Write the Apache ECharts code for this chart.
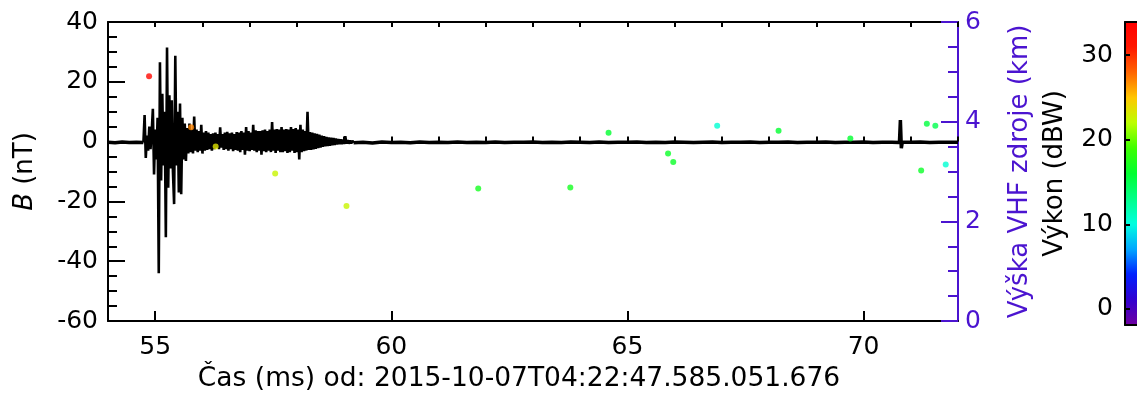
<!DOCTYPE html>
<html>
<head>
<meta charset="utf-8">
<script src="https://cdn.jsdelivr.net/npm/echarts@6/dist/echarts.min.js"></script>
<style>
  html, body { margin: 0; padding: 0; background: #ffffff; }
  #chart { width: 1137px; height: 398px; }
</style>
</head>
<body>
<div id="chart"></div>
<script>
// ---- axis ticks ----
const timeLabelTicks = [55, 60, 65, 70];          // ms
const powerTicks = [0, 10, 20, 30];               // dBW

// ---- magnetic field B (nT) vs time (ms) ----
// quiet record before the burst
const quietPre = [
  [54.00, -0.2], [54.15, -0.4], [54.30, -0.1], [54.45, -0.3], [54.60, -0.2], [54.75, -0.3]
];
// burst: densely sampled oscillation
const burst = [
  [54.750, -0.3], [54.775, 8.9], [54.800, -5.5], [54.825, 2.0], [54.850, -3.0], [54.875, 5.0],
  [54.900, -2.5], [54.925, 3.0], [54.950, 11.0], [54.975, -11.0], [55.000, 4.0], [55.025, -6.0],
  [55.050, 8.0], [55.075, -44.0], [55.100, 26.5], [55.125, -13.0], [55.150, 16.0], [55.175, -8.0],
  [55.200, 10.0], [55.225, -32.0], [55.250, 31.5], [55.275, -15.4], [55.300, 15.5], [55.325, -9.0],
  [55.350, 13.8], [55.375, -10.0], [55.400, -20.9], [55.425, 28.7], [55.450, -8.0], [55.475, 10.0],
  [55.500, -17.0], [55.525, 12.7], [55.550, -17.6], [55.575, 8.0], [55.600, -6.0], [55.625, 6.0],
  [55.650, -6.5], [55.675, 4.5], [55.700, -4.0], [55.725, 6.0], [55.750, -3.5], [55.775, 4.0],
  [55.800, -4.0], [55.825, 8.4], [55.850, -3.0], [55.875, 4.0], [55.900, -3.5], [55.925, 3.5],
  [55.950, -3.0], [55.975, 5.6], [56.000, -4.0], [56.025, 3.0], [56.050, -3.0], [56.075, 3.5],
  [56.100, -2.8], [56.125, 3.0], [56.150, -2.5], [56.175, 2.5], [56.200, -3.0], [56.225, 2.8],
  [56.250, -2.5], [56.275, 3.0], [56.300, -2.0], [56.325, 2.5], [56.350, -2.5], [56.375, 4.8],
  [56.400, -2.0], [56.425, 2.5], [56.450, -2.8], [56.475, 3.0], [56.500, -2.5], [56.525, 3.3],
  [56.550, -3.0], [56.575, 2.8], [56.600, -2.5], [56.625, 3.0], [56.650, -3.2], [56.675, 2.5],
  [56.700, -2.8], [56.725, 3.2], [56.750, -3.0], [56.775, 3.0], [56.800, -3.5], [56.825, 3.5],
  [56.850, -2.8], [56.875, 3.0], [56.900, -4.4], [56.925, 4.9], [56.950, -3.0], [56.975, 3.5],
  [57.000, -3.2], [57.025, 3.0], [57.050, -2.8], [57.075, 5.6], [57.100, -3.0], [57.125, 3.8],
  [57.150, -3.5], [57.175, 3.5], [57.200, -3.0], [57.225, 3.5], [57.250, -4.4], [57.275, 3.8],
  [57.300, -3.2], [57.325, 4.0], [57.350, -3.5], [57.375, 3.5], [57.400, -3.0], [57.425, 4.0],
  [57.450, -3.5], [57.475, 6.5], [57.500, -3.0], [57.525, 4.0], [57.550, -3.8], [57.575, 4.2],
  [57.600, -3.0], [57.625, 4.0], [57.650, -3.5], [57.675, 4.9], [57.700, -3.5], [57.725, 4.0],
  [57.750, -3.2], [57.775, 4.2], [57.800, -3.8], [57.825, 4.0], [57.850, -3.5], [57.875, 4.9],
  [57.900, -3.0], [57.925, 4.2], [57.950, -3.8], [57.975, 4.5], [58.000, -3.5], [58.025, 4.0],
  [58.050, -6.0], [58.075, 5.6], [58.100, -3.5], [58.125, 4.0], [58.150, -3.2], [58.175, 3.5],
  [58.200, -3.0], [58.225, 10.0], [58.250, -2.8], [58.275, 3.2], [58.300, -2.8], [58.325, 3.0],
  [58.350, -2.6], [58.375, 2.8], [58.400, -2.4], [58.425, 2.6], [58.450, -2.2], [58.475, 2.3],
  [58.500, -2.0], [58.525, 2.0], [58.550, -1.8], [58.575, 1.8], [58.600, -1.6], [58.625, 1.6],
  [58.650, -1.5], [58.675, 1.4], [58.700, -1.4], [58.725, 1.3], [58.750, -1.2], [58.775, 1.2],
  [58.800, -1.1], [58.825, 1.0], [58.850, -1.0], [58.875, 0.9], [58.900, -0.9], [58.925, 0.8],
  [58.950, -0.9], [58.975, 0.7], [59.000, -0.8], [59.025, 1.8], [59.050, -0.7], [59.075, 0.5],
  [59.100, -0.7], [59.125, 0.4], [59.150, -0.6], [59.175, 0.3], [59.200, -0.4]
];
// quiet record after the burst, with the short pulse near 70.8 ms
const quietPost = [
  [59.2, -0.4], [59.4, -0.2], [59.6, -0.5], [59.8, -0.1], [60.0, -0.3], [60.2, -0.2], [60.4, -0.4],
  [60.6, -0.1], [60.8, -0.3], [61.0, -0.2], [61.2, -0.3], [61.4, -0.1], [61.6, -0.3], [61.8, -0.2],
  [62.0, -0.3], [62.2, -0.1], [62.4, -0.3], [62.6, -0.2], [62.8, -0.2], [63.0, -0.1], [63.2, -0.3],
  [63.4, -0.2], [63.6, -0.3], [63.8, -0.1], [64.0, -0.2], [64.2, -0.3], [64.4, -0.1], [64.6, -0.3],
  [64.8, -0.2], [65.0, -0.2], [65.2, -0.1], [65.4, -0.3], [65.6, -0.2], [65.8, -0.3], [66.0, -0.1],
  [66.2, -0.2], [66.4, -0.3], [66.6, -0.2], [66.8, -0.1], [67.0, -0.3], [67.2, -0.2], [67.4, -0.2],
  [67.6, -0.1], [67.8, -0.3], [68.0, -0.2], [68.2, -0.2], [68.4, -0.1], [68.6, -0.3], [68.8, -0.2],
  [69.0, -0.2], [69.2, -0.1], [69.4, -0.3], [69.6, -0.2], [69.8, -0.2], [70.0, -0.1], [70.2, -0.3],
  [70.4, -0.2], [70.6, -0.2], [70.76, -0.3], [70.78, 7.2], [70.80, -2.2], [70.82, -0.2], [71.0, -0.2],
  [71.2, -0.1], [71.4, -0.3], [71.6, -0.2], [71.8, -0.2], [72.0, -0.2]
];

// ---- VHF sources: time (ms), height (km), power (dBW) ----
const sourceTime   = [54.87, 55.76, 56.28, 57.54, 59.05, 61.84, 63.79, 64.60, 65.86, 65.97, 66.90, 68.20, 69.72, 71.22, 71.34, 71.52, 71.74];
const sourceHeight = [4.91, 3.89, 3.50, 2.96, 2.31, 2.66, 2.68, 3.78, 3.36, 3.19, 3.92, 3.82, 3.66, 3.02, 3.96, 3.92, 3.14];
const sourcePower  = [33.0, 27.0, 23.5, 22.5, 22.5, 17.0, 17.0, 16.0, 16.5, 16.5, 10.5, 16.0, 16.0, 16.5, 15.5, 15.0, 10.5];

const FONT = 'DejaVu Sans';
const PURPLE = '#4b14d0';
const BLACK = '#000000';

const sources = sourceTime.map((t, i) => [t, sourceHeight[i], sourcePower[i]]);

const chart = echarts.init(document.getElementById('chart'), null, { renderer: 'canvas' });

const lineAxis = (color) => ({ show: true, onZero: false, lineStyle: { color, width: 2 } });

chart.setOption({
  animation: false,
  backgroundColor: '#ffffff',
  textStyle: { fontFamily: FONT },
  grid: [
    { left: 108, right: 179, top: 22, bottom: 73 },
    { left: 1125, top: 22, width: 30, height: 303 }
  ],
  xAxis: [
    {
      gridIndex: 0, type: 'value', min: 54, max: 72, interval: 1, position: 'bottom',
      axisLine: lineAxis(BLACK),
      axisTick: { inside: true, length: 10, customValues: timeLabelTicks, lineStyle: { color: BLACK, width: 2 } },
      axisLabel: { customValues: timeLabelTicks, color: BLACK, fontSize: 25, fontFamily: FONT, margin: 14 },
      splitLine: { show: false },
      name: 'Čas (ms) od: 2015-10-07T04:22:47.585.051.676',
      nameLocation: 'middle', nameGap: 45,
      nameTextStyle: { color: BLACK, fontSize: 26.5, fontFamily: FONT, padding: [0, 28, 0, 0] }
    },
    {
      gridIndex: 0, type: 'value', min: 54, max: 72, interval: 1, position: 'bottom',
      axisLine: { show: false },
      axisTick: { inside: true, length: 5, lineStyle: { color: BLACK, width: 2 } },
      axisLabel: { show: false }, splitLine: { show: false }
    },
    {
      gridIndex: 0, type: 'value', min: 54, max: 72, interval: 1, position: 'top',
      axisLine: lineAxis(BLACK),
      axisTick: { inside: true, length: 5, lineStyle: { color: BLACK, width: 2 } },
      axisLabel: { show: false }, splitLine: { show: false }
    },
    {
      gridIndex: 1, type: 'value', min: 0, max: 1, position: 'bottom', z: 6,
      axisLine: lineAxis(BLACK), axisTick: { show: false }, axisLabel: { show: false }, splitLine: { show: false }
    },
    {
      gridIndex: 1, type: 'value', min: 0, max: 1, position: 'top', z: 6,
      axisLine: lineAxis(BLACK), axisTick: { show: false }, axisLabel: { show: false }, splitLine: { show: false }
    }
  ],
  yAxis: [
    {
      gridIndex: 0, type: 'value', min: -60, max: 40, interval: 20, position: 'left',
      axisLine: lineAxis(BLACK),
      axisTick: { inside: true, length: 17, lineStyle: { color: BLACK, width: 2 } },
      minorTick: { show: true, splitNumber: 4, length: 9, lineStyle: { color: BLACK, width: 2 } },
      axisLabel: { color: BLACK, fontSize: 25, fontFamily: FONT, margin: 10 },
      splitLine: { show: false },
      name: '{i|B} (nT)', nameLocation: 'middle', nameRotate: 90, nameGap: 70,
      nameTextStyle: {
        color: BLACK, fontSize: 26, fontFamily: FONT,
        rich: { i: { fontStyle: 'italic', fontSize: 26, fontFamily: FONT, color: BLACK } }
      }
    },
    {
      gridIndex: 0, type: 'value', min: 0, max: 6, interval: 2, position: 'right',
      axisLine: lineAxis(PURPLE),
      axisTick: { inside: true, length: 17, lineStyle: { color: PURPLE, width: 2 } },
      minorTick: { show: true, splitNumber: 4, length: 10, lineStyle: { color: PURPLE, width: 2 } },
      axisLabel: { color: PURPLE, fontSize: 25, fontFamily: FONT, margin: 7 },
      splitLine: { show: false },
      name: 'Výška VHF zdroje (km)', nameLocation: 'middle', nameRotate: 90, nameGap: 49,
      nameTextStyle: { color: PURPLE, fontSize: 26, fontFamily: FONT }
    },
    {
      gridIndex: 1, type: 'value', min: -1.9, max: 33.9, position: 'left', z: 6,
      axisLine: lineAxis(BLACK),
      axisTick: { inside: true, length: 5, customValues: powerTicks, lineStyle: { color: BLACK, width: 2 } },
      axisLabel: { customValues: powerTicks, color: BLACK, fontSize: 25, fontFamily: FONT, margin: 12 },
      splitLine: { show: false },
      name: 'Výkon (dBW)', nameLocation: 'middle', nameRotate: 90, nameGap: 57,
      nameTextStyle: { color: BLACK, fontSize: 26, fontFamily: FONT }
    }
  ],
  visualMap: {
    type: 'continuous', seriesIndex: 3, dimension: 2,
    min: -1.9, max: 33.9, calculable: false, padding: 0,
    left: 1125, top: 22, itemWidth: 30, itemHeight: 303,
    inRange: {
      color: ['#7000a0', '#3100d0', '#001fff', '#00a6ff', '#00ffe0', '#00ff88', '#00ff30',
              '#3dff00', '#bcff00', '#ffc700', '#ff6500', '#ff1700', '#ff0000']
    }
  },
  series: [
    {
      name: 'B', type: 'line', xAxisIndex: 0, yAxisIndex: 0, data: quietPre,
      showSymbol: false, silent: true, lineStyle: { color: BLACK, width: 3.5 }, z: 2
    },
    {
      name: 'B', type: 'line', xAxisIndex: 0, yAxisIndex: 0, data: burst,
      showSymbol: false, silent: true, lineStyle: { color: BLACK, width: 2.6 }, z: 2
    },
    {
      name: 'B', type: 'line', xAxisIndex: 0, yAxisIndex: 0, data: quietPost,
      showSymbol: false, silent: true, lineStyle: { color: BLACK, width: 3.5 }, z: 2
    },
    {
      name: 'VHF', type: 'scatter', xAxisIndex: 0, yAxisIndex: 1, data: sources,
      symbolSize: 6, z: 3
    }
  ]
});
</script>
</body>
</html>
